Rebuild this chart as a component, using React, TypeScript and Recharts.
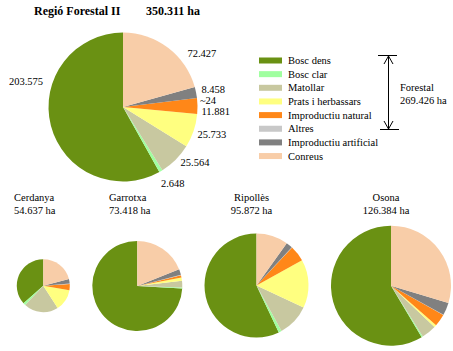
import { PieChart, Pie, Cell } from "recharts";

const CATEGORIES = [
  "Bosc dens",
  "Bosc clar",
  "Matollar",
  "Prats i herbassars",
  "Improductiu natural",
  "Altres",
  "Improductiu artificial",
  "Conreus",
];

const COLORS = [
  "#6A9113",
  "#A0FFA0",
  "#C8C8A0",
  "#FFFF80",
  "#FF8718",
  "#C8C8C8",
  "#808080",
  "#F8CDA8",
];

// hectares, same order as CATEGORIES
const REGIO = [203575, 2648, 25564, 25733, 11881, 24, 8458, 72427];
const CERDANYA = [20000, 800, 11500, 7200, 2000, 200, 1500, 11437];
const GARROTXA = [54400, 300, 1700, 900, 600, 100, 1500, 13918];
const RIPOLLES = [54700, 900, 9600, 14400, 4800, 100, 1900, 9472];
const OSONA = [74000, 400, 5100, 800, 4200, 100, 4300, 37484];

const REGION_NAMES = ["Cerdanya", "Garrotxa", "Ripollès", "Osona"];
const REGION_TOTALS = ["54.637 ha", "73.418 ha", "95.872 ha", "126.384 ha"];

const TITLE = "Regió Forestal II";
const TITLE_TOTAL = "350.311 ha";
const FORESTAL = ["Forestal", "269.426 ha"];

const FONT = '"Liberation Serif", "Times New Roman", "DejaVu Serif", serif';
const RAD = Math.PI / 180;

// hand nudges for the big pie labels [dx, dy]
const LABEL_NUDGE: [number, number][] = [
  [-4, -45],
  [-2, 8.5],
  [2, 0.5],
  [0, 2],
  [0, 6],
  [-1, 3],
  [1.5, -2.5],
  [17, 9.5],
];

const fmt = (v: number) =>
  (v < 1000 ? "~" : "") + String(v).replace(/\B(?=(\d{3})+(?!\d))/g, ".");

const toData = (vals: number[]) =>
  CATEGORIES.map((name, i) => ({ name, value: vals[i] }));

const txt = { fontFamily: FONT, fontSize: 10.5 };

function renderLabel(props: any) {
  const { cx, cy, midAngle, outerRadius, index, value } = props;
  const r = outerRadius + 4;
  const x = cx + r * Math.cos(-midAngle * RAD) + LABEL_NUDGE[index][0];
  const y = cy + r * Math.sin(-midAngle * RAD) + LABEL_NUDGE[index][1];
  const left = Math.cos(-midAngle * RAD) < 0;
  return (
    <text
      x={x}
      y={y}
      fill="#000"
      style={txt}
      textAnchor={left ? "end" : "start"}
      dominantBaseline="central"
    >
      {fmt(value)}
    </text>
  );
}

const SMALL = [
  { data: CERDANYA, cx: 38.3, cy: 280.7, r: 26.5 },
  { data: GARROTXA, cx: 132.3, cy: 281, r: 45 },
  { data: RIPOLLES, cx: 251.5, cy: 280.5, r: 52 },
  { data: OSONA, cx: 386, cy: 280.7, r: 60 },
];

const REGION_TEXT = [
  { x: 14, anchor: "start" },
  { x: 109, anchor: "start" },
  { x: 251.5, anchor: "middle" },
  { x: 386, anchor: "middle" },
];

export default function App() {
  return (
    <div
      style={{
        position: "absolute",
        left: 0,
        top: 0,
        width: 453,
        height: 351,
        background: "#fff",
        fontFamily: FONT,
      }}
    >
      <PieChart width={453} height={351} style={{ position: "absolute", left: 0, top: 0 }}>
        <Pie
          data={toData(REGIO)}
          dataKey="value"
          cx={118}
          cy={102}
          outerRadius={74.5}
          startAngle={90}
          endAngle={450}
          stroke="none"
          label={renderLabel}
          labelLine={false}
          isAnimationActive={false}
        >
          {COLORS.map((c) => (
            <Cell key={c} fill={c} />
          ))}
        </Pie>
        {SMALL.map((p, k) => (
          <Pie
            key={k}
            data={toData(p.data)}
            dataKey="value"
            cx={p.cx}
            cy={p.cy}
            outerRadius={p.r}
            startAngle={90}
            endAngle={450}
            stroke="none"
            isAnimationActive={false}
          >
            {COLORS.map((c) => (
              <Cell key={c} fill={c} />
            ))}
          </Pie>
        ))}
      </PieChart>
      <svg
        width={453}
        height={351}
        style={{ position: "absolute", left: 0, top: 0, pointerEvents: "none", fontFamily: FONT }}
      >
        <text x={34} y={14.5} style={{ ...txt, fontSize: 12, fontWeight: "bold" }}>
          {TITLE}
        </text>
        <text x={146} y={14.5} style={{ ...txt, fontSize: 12, fontWeight: "bold" }}>
          {TITLE_TOTAL}
        </text>

        {CATEGORIES.map((name, i) => {
          const y = 60.5 + i * 13.65;
          return (
            <g key={name}>
              <rect x={259} y={y - 3} width={23} height={6} fill={COLORS[i]} />
              <text x={288} y={y} style={txt} dominantBaseline="central">
                {name}
              </text>
            </g>
          );
        })}

        <g stroke="#000" strokeWidth={1} fill="none">
          <line x1={378} y1={55.5} x2={397} y2={55.5} />
          <line x1={380} y1={129.5} x2={399} y2={129.5} />
          <line x1={388.5} y1={56} x2={388.5} y2={129} />
          <polyline points="384,64 388.5,56 393,64" />
          <polyline points="384,121 388.5,129 393,121" />
        </g>
        <text x={400} y={87.5} style={txt} dominantBaseline="central">
          {FORESTAL[0]}
        </text>
        <text x={400} y={100.5} style={txt} dominantBaseline="central">
          {FORESTAL[1]}
        </text>

        {REGION_NAMES.map((n, i) => (
          <g key={n}>
            <text
              x={REGION_TEXT[i].x}
              y={201}
              style={txt}
              textAnchor={REGION_TEXT[i].anchor as any}
            >
              {n}
            </text>
            <text
              x={REGION_TEXT[i].x}
              y={214}
              style={txt}
              textAnchor={REGION_TEXT[i].anchor as any}
            >
              {REGION_TOTALS[i]}
            </text>
          </g>
        ))}
      </svg>
    </div>
  );
}
